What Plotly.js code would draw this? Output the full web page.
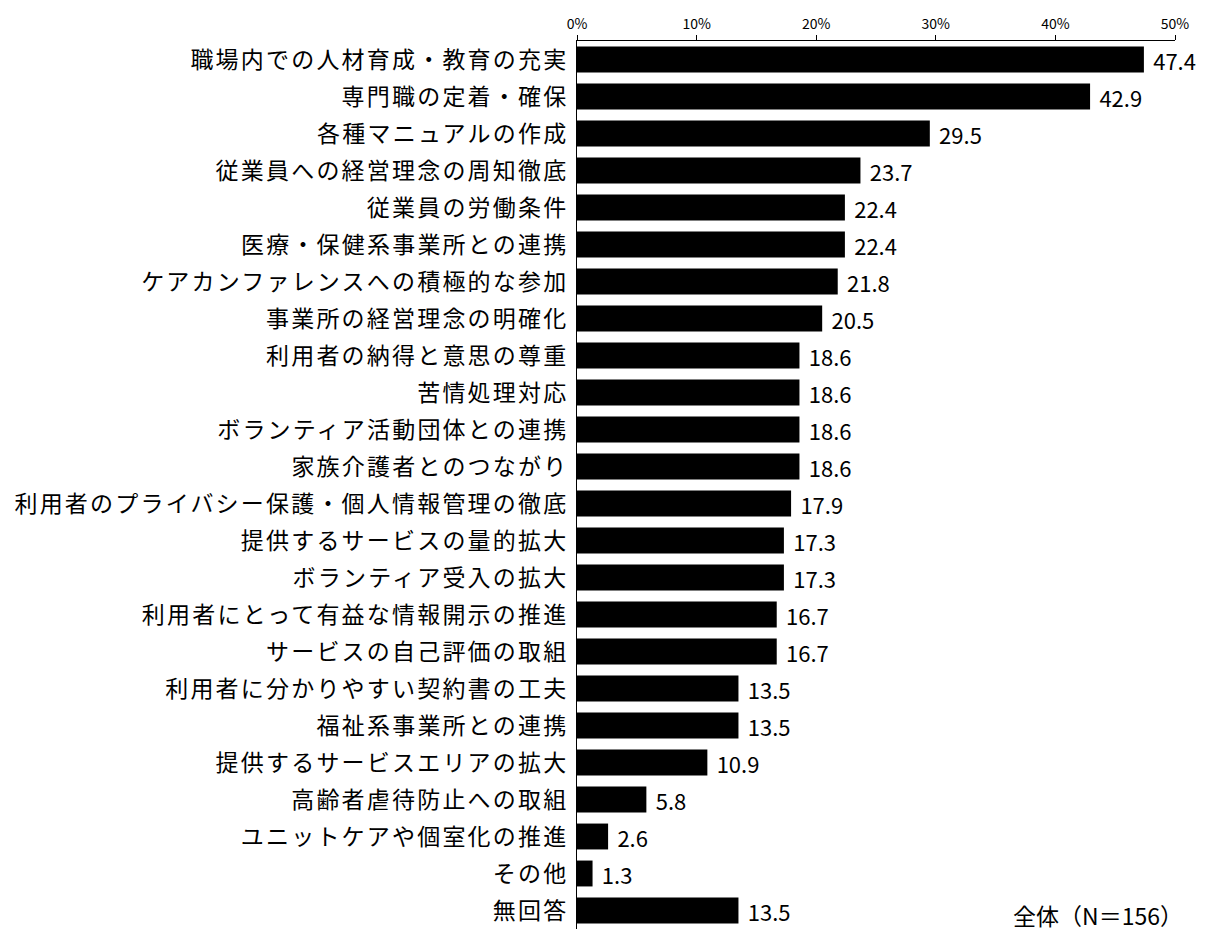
<!DOCTYPE html>
<html>
<head>
<meta charset="utf-8">
<script src="https://cdn.plot.ly/plotly-3.0.1.min.js"></script>
<style>
html,body{margin:0;padding:0;background:#fff;}
#chart{width:1214px;height:935px;}
#chart g.ytick text{letter-spacing:2.2px !important;}
</style>
</head>
<body>
<div id="chart"></div>
<script>
const categories = [
  "職場内での人材育成・教育の充実",
  "専門職の定着・確保",
  "各種マニュアルの作成",
  "従業員への経営理念の周知徹底",
  "従業員の労働条件",
  "医療・保健系事業所との連携",
  "ケアカンファレンスへの積極的な参加",
  "事業所の経営理念の明確化",
  "利用者の納得と意思の尊重",
  "苦情処理対応",
  "ボランティア活動団体との連携",
  "家族介護者とのつながり",
  "利用者のプライバシー保護・個人情報管理の徹底",
  "提供するサービスの量的拡大",
  "ボランティア受入の拡大",
  "利用者にとって有益な情報開示の推進",
  "サービスの自己評価の取組",
  "利用者に分かりやすい契約書の工夫",
  "福祉系事業所との連携",
  "提供するサービスエリアの拡大",
  "高齢者虐待防止への取組",
  "ユニットケアや個室化の推進",
  "その他",
  "無回答"
];
const values = [47.4, 42.9, 29.5, 23.7, 22.4, 22.4, 21.8, 20.5, 18.6, 18.6, 18.6, 18.6, 17.9, 17.3, 17.3, 16.7, 16.7, 13.5, 13.5, 10.9, 5.8, 2.6, 1.3, 13.5];
const tickValues = [0, 10, 20, 30, 40, 50];
const tickLabels = ["0%", "10%", "20%", "30%", "40%", "50%"];
const noteText = "全体（N＝156）";

const FONT = '"Noto Sans CJK JP", "Noto Sans", sans-serif';

const trace = {
  type: 'bar',
  orientation: 'h',
  x: values,
  y: categories,
  marker: {color: '#000000', line: {width: 0}},
  width: 0.7,
  text: values.map(v => '\u00a0\u200a' + v.toFixed(1)),
  texttemplate: '%{text}',
  textposition: 'outside',
  constraintext: 'none',
  textfont: {family: FONT, size: 22, color: '#000'},
  cliponaxis: false,
  hoverinfo: 'none'
};

const layout = {
  width: 1214,
  height: 935,
  margin: {l: 577, r: 39, t: 41, b: 6, pad: 0},
  paper_bgcolor: '#fff',
  plot_bgcolor: '#fff',
  showlegend: false,
  font: {family: FONT, color: '#000'},
  xaxis: {
    side: 'top',
    range: [0, 50],
    tickmode: 'array',
    tickvals: tickValues,
    ticktext: tickLabels,
    ticks: 'outside',
    ticklen: 5,
    tickcolor: '#000',
    tickwidth: 1,
    showline: true,
    linecolor: '#000',
    linewidth: 1,
    showgrid: false,
    zeroline: false,
    tickfont: {family: FONT, size: 14, color: '#000'},
    fixedrange: true
  },
  yaxis: {
    autorange: 'reversed',
    showline: true,
    linecolor: '#000',
    linewidth: 1,
    ticks: '',
    showgrid: false,
    zeroline: false,
    tickfont: {family: FONT, size: 23, color: '#000'},
    ticklabelstandoff: 3,
    fixedrange: true
  },
  annotations: [{
    text: noteText,
    xref: 'paper', yref: 'paper',
    x: 0.871, y: 0.016,
    xanchor: 'center', yanchor: 'middle',
    showarrow: false,
    font: {family: FONT, size: 23, color: '#000'}
  }]
};

Plotly.newPlot('chart', [trace], layout, {staticPlot: true, displayModeBar: false});
</script>
</body>
</html>
